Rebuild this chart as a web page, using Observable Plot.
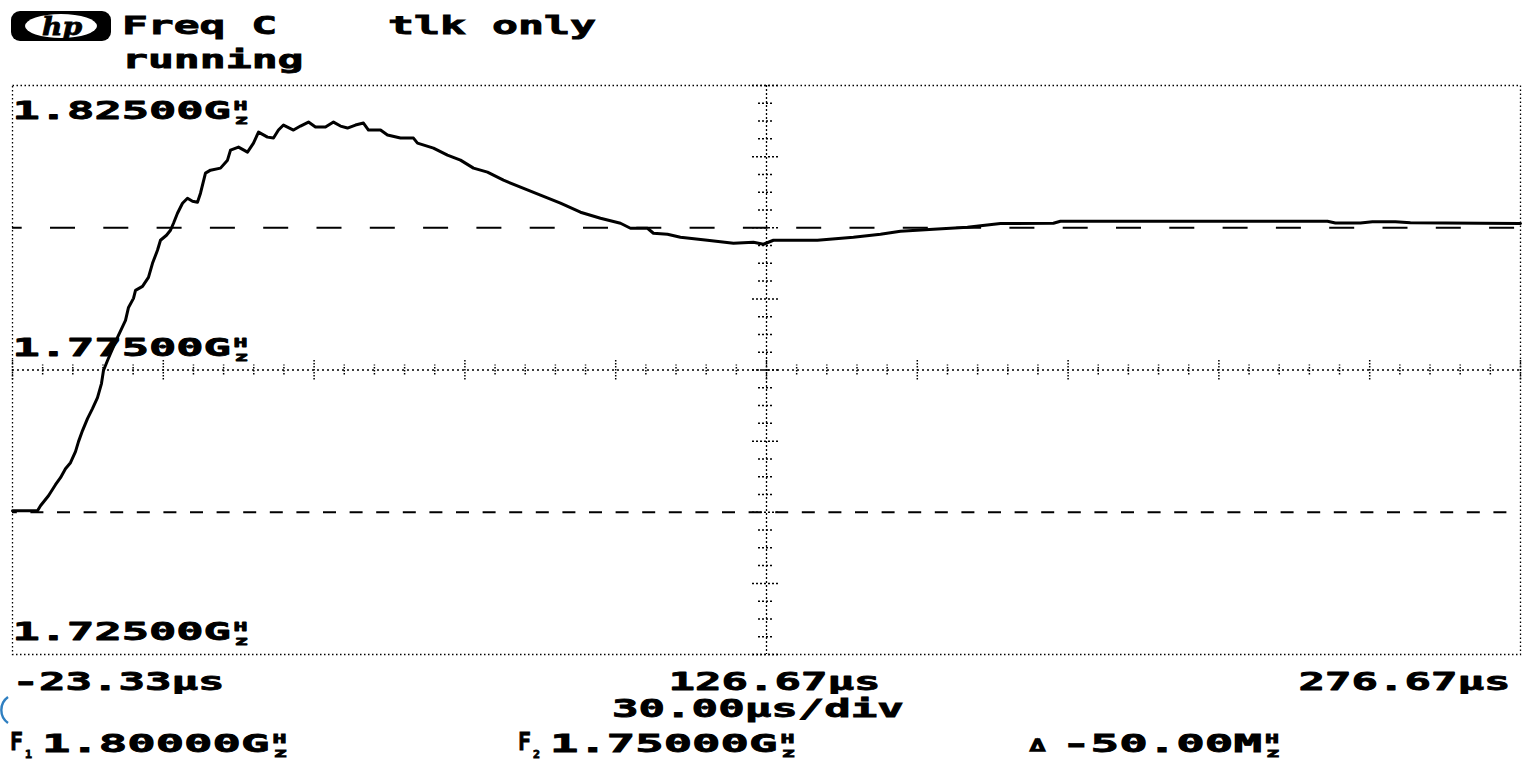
<!DOCTYPE html>
<html><head><meta charset="utf-8">
<script src="https://cdn.jsdelivr.net/npm/d3@7"></script>
<script src="https://cdn.jsdelivr.net/npm/@observablehq/plot@0.6"></script>
<style>
html,body{margin:0;padding:0;background:#fff;}
body{width:1524px;height:760px;overflow:hidden;}
svg{display:block;}
.cap text{font-family:"DejaVu Sans Mono",monospace;font-weight:bold;fill:#000;stroke:#000;stroke-width:0.8px;}
</style></head><body>
<svg id="hdr" class="cap" width="1524" height="84"></svg>
<div id="chart"></div>
<svg id="ftr" class="cap" width="1524" height="66"></svg>
<script>
// ---- data ----
const timeUs = [-23.33,-18.36,-17.76,-16.17,-14.78,-13.78,-12.79,-11.79,-10.80,-10.20,-9.40,-8.41,-7.42,-6.42,-5.63,-5.23,-4.43,-3.83,-2.44,-0.85,-0.25,0.74,1.14,2.53,3.72,4.52,5.51,6.11,7.30,8.10,8.70,9.49,10.49,11.48,12.48,13.47,14.07,15.06,16.06,18.05,19.44,20.04,21.63,23.42,24.61,25.61,27.40,28.59,29.58,30.58,32.57,33.96,35.55,36.94,38.93,40.53,41.92,43.31,44.90,46.49,47.49,49.88,51.27,53.85,56.44,57.24,60.42,63.20,65.79,68.38,71.16,74.34,77.73,81.70,85.68,89.66,93.64,97.62,99.60,102.99,104.18,106.97,109.55,114.92,120.10,124.07,126.06,128.05,136.80,143.96,149.34,153.31,159.88,166.64,173.21,183.75,185.14,212.99,238.26,239.85,244.82,247.21,251.78,254.77,268.70,276.67];
const freqMHz = [1750.26,1750.26,1751.14,1752.90,1754.84,1756.07,1757.66,1758.71,1760.65,1762.41,1764.35,1766.46,1768.22,1770.16,1772.62,1774.91,1776.67,1777.90,1780.72,1783.71,1786.00,1787.59,1789.00,1789.70,1791.29,1793.75,1796.04,1797.80,1798.68,1799.56,1800.79,1802.55,1804.31,1805.19,1804.67,1804.49,1806.07,1809.60,1810.12,1810.48,1811.88,1813.64,1814.17,1813.29,1814.88,1816.81,1815.93,1815.76,1817.17,1818.05,1817.17,1817.87,1818.57,1817.69,1817.69,1818.57,1817.87,1817.52,1818.05,1818.40,1817.17,1817.17,1816.29,1815.76,1815.76,1814.88,1814.00,1812.76,1811.88,1810.48,1809.77,1808.36,1807.13,1805.72,1804.31,1802.73,1801.67,1800.79,1799.91,1799.91,1799.03,1798.86,1798.33,1797.80,1797.27,1797.45,1797.10,1797.80,1797.80,1798.33,1798.86,1799.38,1799.74,1800.09,1800.74,1800.79,1801.14,1801.14,1801.14,1800.85,1800.85,1801.06,1801.06,1800.88,1800.79,1800.74];
const yTickValues = [1825, 1775, 1725];            // MHz
const yTickLabels = ["1.82500G", "1.77500G", "1.72500G"];
const xTickValues = [-23.33, 126.67, 276.67];      // µs
const xTickLabels = ["-23.33µs", "126.67µs", "276.67µs"];
const markerF1 = 1800, markerF2 = 1750;            // MHz
const timePerDiv = 30, yDivs = 8, xDivs = 10;
const headerTexts = ["Freq C", "tlk only", "running"];
const footerTexts = ["30.00µs/div", "1.80000G", "1.75000G", "-50.00M"];

// ---- layout ----
const W = 1524, H = 610, mL = 12, mR = 4, mT = 1, mB = 40;
const xDomain = [xTickValues[0], xTickValues[2]];
const yDomain = [yTickValues[2], yTickValues[0]];
const xMid = xTickValues[1], yMid = yTickValues[1];
const usPerPx = (xDomain[1] - xDomain[0]) / (W - mL - mR);
const mhzPerPx = (yDomain[1] - yDomain[0]) / (H - mT - mB);

const trace = timeUs.map((t, i) => ({t, f: freqMHz[i]}));
const xTicks = d3.range(0, xDivs * 5 + 1).map(k => ({v: xDomain[0] + k * timePerDiv / 5, major: k % 5 === 0}));
const yStep = (yDomain[1] - yDomain[0]) / yDivs;
const yTicks = d3.range(0, yDivs * 4 + 1).map(k => ({v: yDomain[0] + k * yStep / 4, major: k % 4 === 0}));
const yLab = yTickValues.map((v, i) => ({v, label: yTickLabels[i]}));
const font = {fontFamily: "DejaVu Sans Mono", fontWeight: "bold", fill: "#000", stroke: "#000", strokeWidth: 0.8};

function yLabelMarks(rows, dy) {
  return [
    Plot.text(rows, {x: xDomain[0], y: "v", text: "label", textAnchor: "start", lineAnchor: "bottom", dy, fontSize: 25, className: "fity", ...font}),
    Plot.text(rows, {x: xDomain[0], y: "v", text: () => "H", textAnchor: "start", lineAnchor: "bottom", dx: 221, dy: dy - 9, fontSize: 13, className: "fitsm", ...font}),
    Plot.text(rows, {x: xDomain[0], y: "v", text: () => "z", textAnchor: "start", lineAnchor: "bottom", dx: 222, dy: dy + 5, fontSize: 13, className: "fitsm", ...font})
  ];
}

const chart = Plot.plot({
  width: W, height: H,
  marginLeft: mL, marginRight: mR, marginTop: mT, marginBottom: mB,
  x: {domain: xDomain, axis: null},
  y: {domain: yDomain, axis: null},
  style: {fontFamily: "DejaVu Sans Mono", background: "#fff"},
  marks: [
    Plot.frame({stroke: "#000", strokeDasharray: "1.5,2.5", strokeWidth: 1.3}),
    Plot.ruleY([yMid], {stroke: "#000", strokeDasharray: "2,3", strokeWidth: 1.3}),
    Plot.ruleX([xMid], {stroke: "#000", strokeDasharray: "2,2", strokeWidth: 1.3}),
    Plot.ruleX(xTicks, {x: "v", y1: d => yMid - (d.major ? 10 : 5) * mhzPerPx, y2: d => yMid + (d.major ? 10 : 5) * mhzPerPx, stroke: "#000", strokeDasharray: "1.5,1.5", strokeWidth: 1.5}),
    Plot.ruleY(yTicks, {y: "v", x1: d => xMid - (d.major ? 14 : 8) * usPerPx, x2: d => xMid + (d.major ? 14 : 8) * usPerPx, stroke: "#000", strokeDasharray: "2,2", strokeWidth: 1.5}),
    Plot.ruleY([markerF1], {stroke: "#000", strokeWidth: 2, strokeDasharray: "25,28.3", strokeDashoffset: 15.3}),
    Plot.ruleY([markerF2], {stroke: "#000", strokeWidth: 2, strokeDasharray: "13,13.6", strokeDashoffset: 8.2}),
    Plot.line(trace, {x: "t", y: "f", stroke: "#000", strokeWidth: 3, strokeLinejoin: "round"}),
    ...yLabelMarks(yLab.slice(0, 1), 33),
    ...yLabelMarks(yLab.slice(1), -14.5),
    Plot.text([xTickValues[0]], {x: d => d, y: yDomain[0], text: () => xTickLabels[0], textAnchor: "start", lineAnchor: "bottom", dy: 35, fontSize: 25, className: "fitx", ...font}),
    Plot.text([xTickValues[1]], {x: d => d, y: yDomain[0], text: () => xTickLabels[1], textAnchor: "start", lineAnchor: "bottom", dx: -98, dy: 35, fontSize: 25, className: "fitx", ...font}),
    Plot.text([xTickValues[2]], {x: d => d, y: yDomain[0], text: () => xTickLabels[2], textAnchor: "start", lineAnchor: "bottom", dx: -222, dy: 35, fontSize: 25, className: "fitx", ...font})
  ]
});
document.getElementById("chart").appendChild(chart);
function fit(sel, f) {
  d3.select(chart).selectAll(sel).each(function () {
    this.setAttribute("textLength", f(this.textContent.length).toFixed(1));
    this.setAttribute("lengthAdjust", "spacingAndGlyphs");
  });
}
fit(".fity text", n => n * 27.3);
fit(".fitx text", n => n * 26.5);
fit(".fitsm text", () => 14);

// ---- header and footer captions ----
function addText(svg, str, x, y, size, len) {
  const t = svg.append("text").attr("x", x).attr("y", y).attr("font-size", size).text(str);
  if (len) t.attr("textLength", len.toFixed(1)).attr("lengthAdjust", "spacingAndGlyphs");
  return t;
}
const hdr = d3.select("#hdr");
// hp logo
hdr.append("rect").attr("x", 11).attr("y", 11).attr("width", 100).attr("height", 30).attr("rx", 9).attr("fill", "#000");
hdr.append("ellipse").attr("cx", 61).attr("cy", 26).attr("rx", 36).attr("ry", 12).attr("fill", "#fff");
hdr.append("text").attr("x", 42).attr("y", 35).attr("font-size", 24).attr("font-style", "italic")
  .style("font-family", "DejaVu Serif").text("hp")
  .attr("textLength", 40).attr("lengthAdjust", "spacingAndGlyphs");
addText(hdr, headerTexts[0], 122, 34, 25, 6 * 26.5 - 4);
addText(hdr, headerTexts[1], 388, 34, 25, 8 * 26.5 - 4);
addText(hdr, headerTexts[2], 122, 68, 25, 7 * 26.5 - 4);

const ftr = d3.select("#ftr");
// small blue arc at the left edge, as in the reference
ftr.append("path").attr("d", "M 8 3 A 16 16 0 0 0 8 29").attr("fill", "none").attr("stroke", "#2f7fc1").attr("stroke-width", 2.4);
addText(ftr, footerTexts[0], 612, 23, 25, 11 * 26.9 - 4);
function freqLabel(prefix, sub, str, x0, xv, n, pitch) {
  if (prefix) addText(ftr, prefix, x0, 56, 25, 13);
  if (sub) addText(ftr, sub, x0 + 15, 64, 11, 7);
  addText(ftr, str, xv, 58, 25, n * pitch - 3);
  const hx = xv + n * pitch;
  addText(ftr, "H", hx, 49, 13, 14);
  addText(ftr, "z", hx + 1, 63, 13, 14);
}
freqLabel("F", "1", footerTexts[1], 10, 42, 8, 28.8);
freqLabel("F", "2", footerTexts[2], 518, 550, 8, 28.8);
addText(ftr, "\u0394", 1030, 57, 16, 15).style("fill", "#fff").style("stroke-width", "1.6px").style("font-weight", "normal");
freqLabel("", "", footerTexts[3], 1030, 1062, 7, 29);
</script>
</body></html>
